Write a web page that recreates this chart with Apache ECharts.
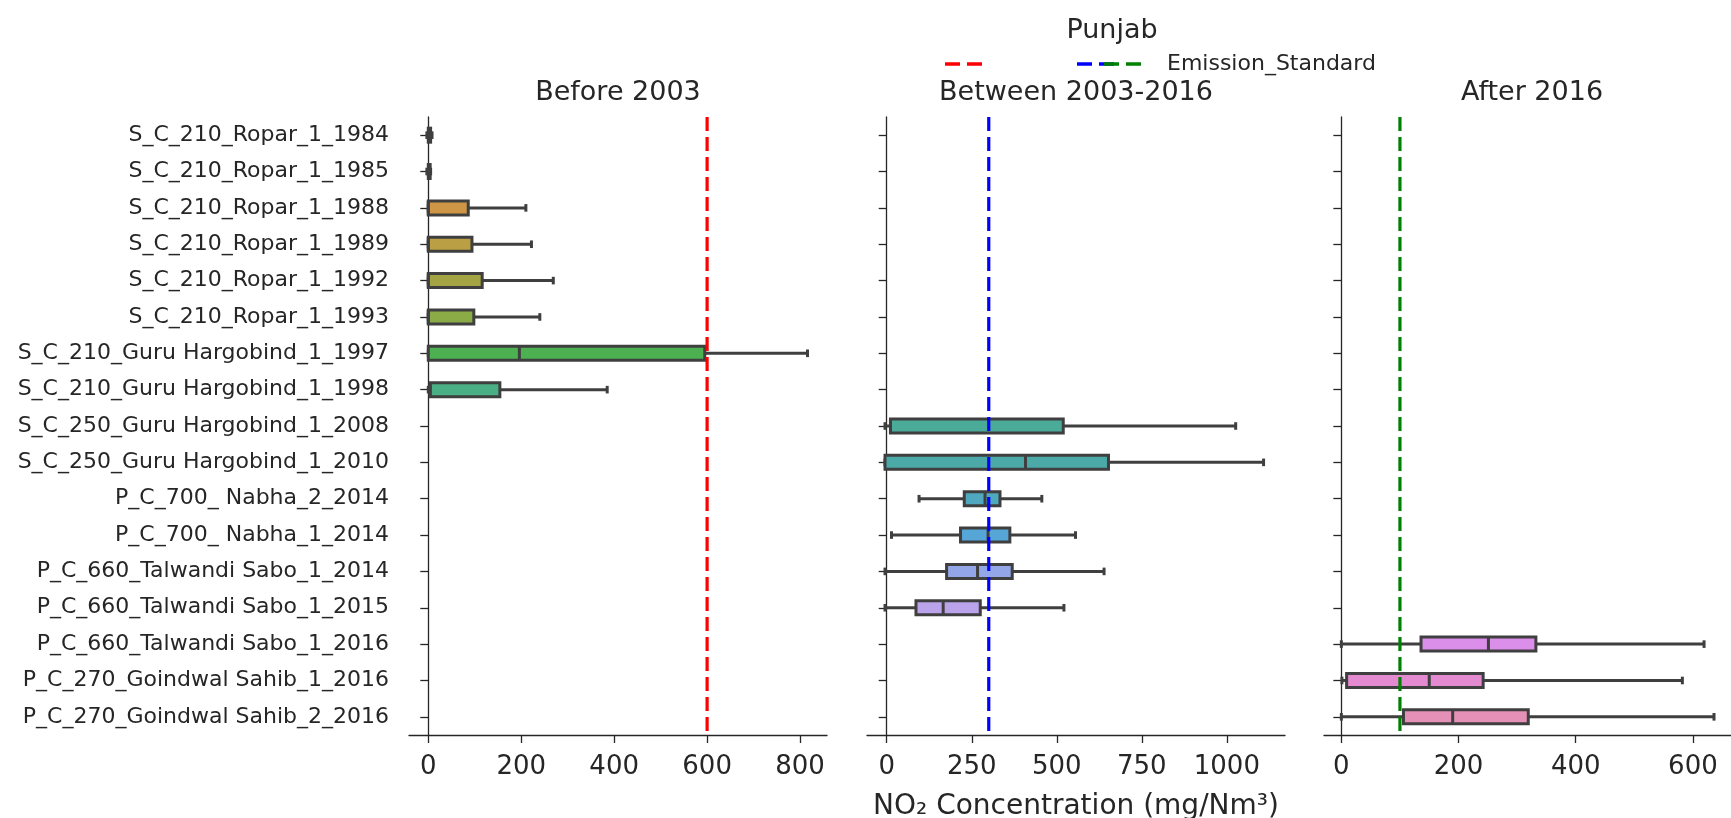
<!DOCTYPE html>
<html><head><meta charset="utf-8">
<script src="https://cdn.jsdelivr.net/npm/echarts@6/dist/echarts.min.js"></script>
<style>html,body{margin:0;padding:0;background:#fff}#c{width:1731px;height:818px}</style>
</head><body><div id="c"></div>
<script>
// ---------------- data ----------------
const categories = [
  'S_C_210_Ropar_1_1984','S_C_210_Ropar_1_1985','S_C_210_Ropar_1_1988','S_C_210_Ropar_1_1989',
  'S_C_210_Ropar_1_1992','S_C_210_Ropar_1_1993','S_C_210_Guru Hargobind_1_1997','S_C_210_Guru Hargobind_1_1998',
  'S_C_250_Guru Hargobind_1_2008','S_C_250_Guru Hargobind_1_2010','P_C_700_ Nabha_2_2014','P_C_700_ Nabha_1_2014',
  'P_C_660_Talwandi Sabo_1_2014','P_C_660_Talwandi Sabo_1_2015','P_C_660_Talwandi Sabo_1_2016',
  'P_C_270_Goindwal Sahib_1_2016','P_C_270_Goindwal Sahib_2_2016'
];
// [category, min, q1, median, q3, max]
const before2003 = [
  ['S_C_210_Ropar_1_1984', -3, 0, 2, 5, 8],
  ['S_C_210_Ropar_1_1985', -3, 0, 2, 4, 5],
  ['S_C_210_Ropar_1_1988', 0, 0, 0, 86, 210],
  ['S_C_210_Ropar_1_1989', 0, 0, 0, 94, 222],
  ['S_C_210_Ropar_1_1992', 0, 0, 0, 116, 269],
  ['S_C_210_Ropar_1_1993', 0, 0, 0, 98, 240],
  ['S_C_210_Guru Hargobind_1_1997', 0, 0, 196, 595, 816],
  ['S_C_210_Guru Hargobind_1_1998', 0, 4, 4, 154, 385]
];
const between2003_2016 = [
  ['S_C_250_Guru Hargobind_1_2008', -5, 11, 11, 519, 1026],
  ['S_C_250_Guru Hargobind_1_2010', -5, -5, 408, 652, 1108],
  ['P_C_700_ Nabha_2_2014', 95, 228, 289, 333, 456],
  ['P_C_700_ Nabha_1_2014', 14, 217, 298, 362, 555],
  ['P_C_660_Talwandi Sabo_1_2014', -5, 176, 267, 369, 639],
  ['P_C_660_Talwandi Sabo_1_2015', -5, 86, 166, 275, 521]
];
const after2016 = [
  ['P_C_660_Talwandi Sabo_1_2016', 0, 136, 251, 332, 619],
  ['P_C_270_Goindwal Sahib_1_2016', 1, 9, 150, 242, 582],
  ['P_C_270_Goindwal Sahib_2_2016', 0, 106, 190, 319, 636]
];
const emissionStandards = [600, 300, 100];
const panelTitles = ['Before 2003', 'Between 2003-2016', 'After 2016'];
const ticksBefore = [0, 200, 400, 600, 800];
const ticksBetween = [0, 250, 500, 750, 1000];
const ticksAfter = [0, 200, 400, 600];

// ---------------- styles ----------------
const boxColors = ['#e3888f','#d68e5a','#cf9648','#bb9f45','#a4a444','#8aab46','#4db051','#4aaf85',
  '#4aab98','#4ba9a8','#4fa8bd','#56a6d8','#93a6e8','#baa3ea','#dc8fea','#e48ad0','#e590b7'];
const lineColors = ['#ff0000', '#0000ff', '#008000'];
const FONT = 'DejaVu Sans';
const TXT = '#262626';
const EDGE = '#3f3f3f';

const grids = [
  {left: 409, top: 117, width: 418, height: 618},
  {left: 867, top: 117, width: 418, height: 618},
  {left: 1324, top: 117, width: 416, height: 618}
];
const ranges = [[-41.5, 858], [-58, 1171], [-29.6, 665]];
const panelData = [before2003, between2003_2016, after2016];
const panelTicks = [ticksBefore, ticksBetween, ticksAfter];

function boxRender(params, api) {
  const ci = api.value(0);
  const yc = api.coord([0, ci])[1];
  const xs = [1, 2, 3, 4, 5].map(i => api.coord([api.value(i), ci])[0]);
  const hb = 7, hc = 3.8, lw = 3;
  const ls = {stroke: EDGE, lineWidth: lw};
  return {
    type: 'group',
    children: [
      {type: 'line', shape: {x1: xs[0], y1: yc, x2: xs[1], y2: yc}, style: ls},
      {type: 'line', shape: {x1: xs[3], y1: yc, x2: xs[4], y2: yc}, style: ls},
      {type: 'line', shape: {x1: xs[0], y1: yc - hc, x2: xs[0], y2: yc + hc}, style: ls},
      {type: 'line', shape: {x1: xs[4], y1: yc - hc, x2: xs[4], y2: yc + hc}, style: ls},
      {type: 'rect', shape: {x: xs[1], y: yc - hb, width: Math.max(xs[3] - xs[1], 0.5), height: 2 * hb},
        style: {fill: boxColors[ci], stroke: EDGE, lineWidth: lw}},
      {type: 'line', shape: {x1: xs[2], y1: yc - hb, x2: xs[2], y2: yc + hb}, style: ls}
    ]
  };
}

const xAxes = [], yAxes = [], series = [];
for (let i = 0; i < 3; i++) {
  xAxes.push({
    type: 'value', gridIndex: i, min: ranges[i][0], max: ranges[i][1],
    splitLine: {show: false},
    axisLine: {show: true, onZero: false, lineStyle: {color: TXT, width: 1.3}},
    axisTick: {show: true, length: 8, lineStyle: {color: TXT, width: 1.3}, customValues: panelTicks[i]},
    axisLabel: {customValues: panelTicks[i], fontSize: 26, color: TXT, fontFamily: FONT, margin: 19,
      formatter: v => String(v)}
  });
  yAxes.push({
    type: 'category', gridIndex: i, data: categories, inverse: true,
    axisLine: {show: true, lineStyle: {color: TXT, width: 1.3}},
    axisTick: {show: true, alignWithLabel: true, length: 8, lineStyle: {color: TXT, width: 1.3}},
    axisLabel: {show: i === 0, interval: 0, fontSize: 22, color: TXT, fontFamily: FONT, margin: 20,
      padding: [4, 0, 0, 0]},
    splitLine: {show: false}
  });
  series.push({
    type: 'custom', xAxisIndex: i, yAxisIndex: i,
    renderItem: boxRender,
    encode: {x: [1, 2, 3, 4, 5], y: 0},
    data: panelData[i].map(r => [categories.indexOf(r[0]), r[1], r[2], r[3], r[4], r[5]]),
    z: 2
  });
  series.push({
    type: 'custom', xAxisIndex: i, yAxisIndex: i, z: 5,
    encode: {x: 0, y: 1},
    data: [[emissionStandards[i], 0]],
    renderItem: (function (col) {
      return function (params, api) {
        const x = api.coord([api.value(0), 0])[0];
        const cs = params.coordSys;
        return {type: 'line', shape: {x1: x, y1: cs.y, x2: x, y2: cs.y + cs.height},
          style: {stroke: col, lineWidth: 3.2, lineDash: [14, 6]}};
      };
    })(lineColors[i])
  });
}

const centers = grids.map(g => g.left + g.width / 2);
const graphics = [
  {type: 'text', x: 1112, y: 31, style: {text: 'Punjab', font: '27px "DejaVu Sans"', fill: TXT, textAlign: 'center', textVerticalAlign: 'middle'}},
  {type: 'line', shape: {x1: 945, y1: 64, x2: 983, y2: 64}, style: {stroke: lineColors[0], lineWidth: 3.5, lineDash: [15, 7]}},
  {type: 'line', shape: {x1: 1077, y1: 64, x2: 1115, y2: 64}, style: {stroke: lineColors[1], lineWidth: 3.5, lineDash: [15, 7]}},
  {type: 'line', shape: {x1: 1104, y1: 64, x2: 1142, y2: 64}, style: {stroke: lineColors[2], lineWidth: 3.5, lineDash: [15, 7]}},
  {type: 'text', x: 1167, y: 64, style: {text: 'Emission_Standard', font: '22px "DejaVu Sans"', fill: TXT, textAlign: 'left', textVerticalAlign: 'middle'}},
  {type: 'text', x: centers[1], y: 807, style: {text: 'NO₂ Concentration (mg/Nm³)', font: '28px "DejaVu Sans"', fill: TXT, textAlign: 'center', textVerticalAlign: 'middle'}}
];
panelTitles.forEach((t, i) => graphics.push({
  type: 'text', x: centers[i], y: 93,
  style: {text: t, font: '27px "DejaVu Sans"', fill: TXT, textAlign: 'center', textVerticalAlign: 'middle'}
}));

const chart = echarts.init(document.getElementById('c'), null, {renderer: 'canvas'});
chart.setOption({
  animation: false,
  backgroundColor: '#ffffff',
  textStyle: {fontFamily: FONT},
  grid: grids,
  xAxis: xAxes,
  yAxis: yAxes,
  series: series,
  graphic: graphics
});
</script></body></html>
